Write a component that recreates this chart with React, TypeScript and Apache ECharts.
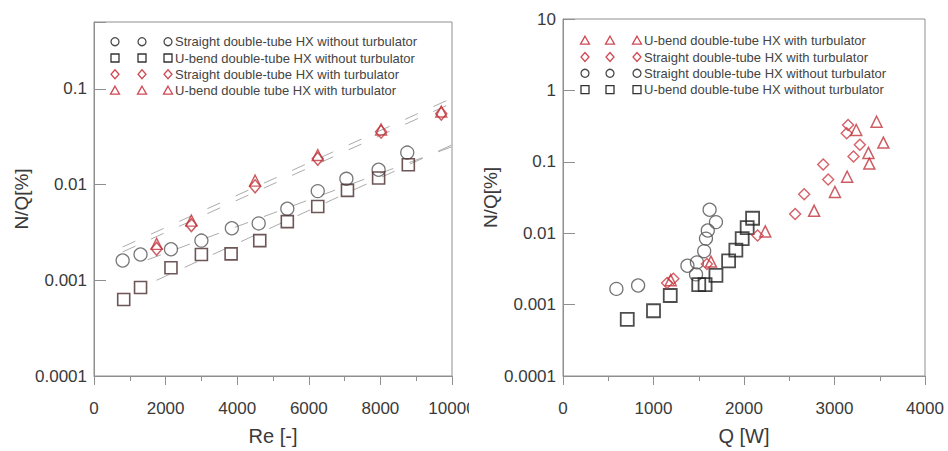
import React, { useEffect, useRef } from 'react';
import * as echarts from 'echarts';

const FONT = '"Liberation Sans", Arial, Helvetica, sans-serif';

// ---------- Left panel: N/Q vs Re ----------
const leftReStraightNo = [800, 1300, 2150, 3000, 3850, 4600, 5400, 6250, 7050, 7950, 8750];
const leftNQStraightNo = [0.00161, 0.00186, 0.00211, 0.0026, 0.0035, 0.00393, 0.0056, 0.00855, 0.0115, 0.0143, 0.0216];
const leftReUbendNo = [830, 1300, 2150, 3000, 3830, 4630, 5400, 6250, 7080, 7950, 8780];
const leftNQUbendNo = [0.00063, 0.00084, 0.00135, 0.00186, 0.00189, 0.0026, 0.0041, 0.0059, 0.0087, 0.0117, 0.0161];
const leftReStraightWith = [1750, 2720, 4500, 6250, 8020, 9700];
const leftNQStraightWith = [0.00213, 0.00377, 0.0096, 0.0186, 0.0357, 0.0551];
const leftReUbendWith = [1750, 2720, 4500, 6250, 8020, 9700];
const leftNQUbendWith = [0.0024, 0.0042, 0.011, 0.0204, 0.0377, 0.058];

// dashed exponential fit lines (end points)
const fitReUbendWith = [800, 10000];
const fitNQUbendWith = [0.00223, 0.08];
const fitReStraightWith = [800, 10000];
const fitNQStraightWith = [0.00198, 0.071];
const fitReStraightNo = [1500, 10000];
const fitNQStraightNo = [0.00164, 0.0249];
const fitReUbendNo = [1745, 10000];
const fitNQUbendNo = [0.001, 0.026];

// ---------- Right panel: N/Q vs Q ----------
const rightQStraightNo = [590, 830, 1375, 1480, 1470, 1560, 1580, 1600, 1690, 1620];
const rightNQStraightNo = [0.00166, 0.00185, 0.0035, 0.0039, 0.00265, 0.0056, 0.0084, 0.0109, 0.0143, 0.0213];
const rightQUbendNo = [710, 1000, 1185, 1500, 1570, 1690, 1830, 1910, 1980, 2035, 2095];
const rightNQUbendNo = [0.00062, 0.00082, 0.00134, 0.0019, 0.0019, 0.00257, 0.0041, 0.0058, 0.0084, 0.012, 0.0162];
const rightQStraightWith = [1150, 1220, 1590, 2150, 2565, 2665, 2875, 2930, 3210, 3280, 3135, 3150];
const rightNQStraightWith = [0.002, 0.0023, 0.0037, 0.0093, 0.0186, 0.0351, 0.0914, 0.0567, 0.119, 0.173, 0.251, 0.327];
const rightQUbendWith = [1190, 1635, 2235, 2775, 3005, 3140, 3385, 3375, 3240, 3465, 3540];
const rightNQUbendWith = [0.0022, 0.004, 0.0106, 0.0206, 0.0378, 0.0618, 0.0944, 0.133, 0.279, 0.364, 0.186];

const leftLegend = [
  { name: 'Straight double-tube HX without turbulator', kind: 'circle', color: '#4a4a4a' },
  { name: 'U-bend double-tube HX without turbulator', kind: 'rect', color: '#333333' },
  { name: 'Straight double-tube HX with turbulator', kind: 'diamond', color: '#d04a55' },
  { name: 'U-bend double tube HX with turbulator', kind: 'triangle', color: '#d04a55' },
];
const rightLegend = [
  { name: 'U-bend double-tube HX with turbulator', kind: 'triangle', color: '#d04a55' },
  { name: 'Straight double-tube HX with turbulator', kind: 'diamond', color: '#d04a55' },
  { name: 'Straight double-tube HX without turbulator', kind: 'circle', color: '#4a4a4a' },
  { name: 'U-bend double-tube HX without turbulator', kind: 'rect', color: '#333333' },
];

const zip = (xs: number[], ys: number[]) => xs.map((x, i) => [x, ys[i]]);

const AXIS_COLOR = '#8f8f8f';
const LABEL_COLOR = '#3a3a3a';

const logFormatter = (v: number) => {
  const e = Math.log10(v);
  const r = Math.round(e);
  if (Math.abs(e - r) > 1e-6) return '';
  return r >= 0 ? String(Math.pow(10, r)) : Math.pow(10, r).toFixed(-r);
};

function xAxisDef(grid: number, max: number, interval: number, name: string) {
  return {
    type: 'value',
    gridIndex: grid,
    min: 0,
    max,
    interval,
    name,
    nameLocation: 'middle',
    nameGap: 50,
    nameTextStyle: { fontSize: 20, color: LABEL_COLOR, fontFamily: FONT },
    axisLine: { lineStyle: { color: AXIS_COLOR, width: 1 } },
    axisTick: { show: true, inside: false, length: 9, lineStyle: { color: AXIS_COLOR } },
    minorTick: { show: true, splitNumber: 2, length: 5, lineStyle: { color: AXIS_COLOR } },
    axisLabel: {
      fontSize: 17,
      color: LABEL_COLOR,
      margin: 24,
      fontFamily: FONT,
      formatter: (v: number) => String(Math.round(v)),
    },
    splitLine: { show: false },
    minorSplitLine: { show: false },
  };
}

function yAxisDef(grid: number, max: number, nameGap: number) {
  return {
    type: 'log',
    logBase: 10,
    gridIndex: grid,
    min: 0.0001,
    max,
    name: 'N/Q[%]',
    nameLocation: 'middle',
    nameGap,
    nameRotate: 90,
    nameTextStyle: { fontSize: 19, color: LABEL_COLOR, fontFamily: FONT },
    axisLine: { lineStyle: { color: AXIS_COLOR, width: 1 } },
    axisTick: { show: true, inside: true, length: 12, lineStyle: { color: AXIS_COLOR } },
    axisLabel: { fontSize: 17, color: LABEL_COLOR, margin: 7, fontFamily: FONT, formatter: logFormatter },
    splitLine: { show: false },
  };
}

function scatter(name: string, grid: number, data: number[][], symbol: string, size: number | number[], color: string, bw: number) {
  return {
    type: 'scatter',
    name,
    xAxisIndex: grid,
    yAxisIndex: grid,
    data,
    symbol,
    symbolSize: size,
    itemStyle: { color: 'rgba(0,0,0,0)', borderColor: color, borderWidth: bw },
    z: 3,
    silent: true,
  };
}

function fitLine(data: number[][]) {
  return {
    type: 'line',
    xAxisIndex: 0,
    yAxisIndex: 0,
    data,
    symbol: 'none',
    lineStyle: { color: '#ababab', width: 1, type: [14, 17] },
    z: 1,
    silent: true,
  };
}

function legendSymbol(kind: string, x: number, y: number, color: string) {
  const style = { fill: 'none', stroke: color, lineWidth: 1.3 };
  if (kind === 'circle') return { type: 'circle', shape: { cx: x, cy: y, r: 4 }, style };
  if (kind === 'rect') return { type: 'rect', shape: { x: x - 4, y: y - 4, width: 8, height: 8 }, style };
  if (kind === 'diamond')
    return { type: 'polygon', shape: { points: [[x, y - 4.5], [x + 4, y], [x, y + 4.5], [x - 4, y]] }, style };
  return { type: 'polygon', shape: { points: [[x, y - 4.5], [x + 4.5, y + 3.5], [x - 4.5, y + 3.5]] }, style };
}

function legendGraphics(items: typeof leftLegend, xs: number[], textX: number, rows: number[]) {
  const out: any[] = [];
  items.forEach((it, i) => {
    xs.forEach((x) => out.push(legendSymbol(it.kind, x, rows[i], it.color)));
    out.push({
      type: 'text',
      x: textX,
      y: rows[i],
      style: {
        text: it.name,
        fontSize: 13,
        fontFamily: FONT,
        fill: '#444444',
        verticalAlign: 'middle',
        align: 'left',
      },
    });
  });
  return out;
}

export default function App() {
  const ref = useRef<HTMLDivElement>(null);
  useEffect(() => {
    const chart = echarts.init(ref.current!, null, { renderer: 'svg' });
    const option: any = {
      animation: false,
      backgroundColor: '#ffffff',
      textStyle: { fontFamily: FONT },
      grid: [
        { left: 94, top: 22, width: 358, height: 358, show: true, borderColor: AXIS_COLOR, borderWidth: 1, containLabel: false },
        { left: 563, top: 19, width: 362, height: 361, show: true, borderColor: AXIS_COLOR, borderWidth: 1, containLabel: false },
      ],
      xAxis: [xAxisDef(0, 10000, 2000, 'Re [-]'), xAxisDef(1, 4000, 1000, 'Q [W]')],
      yAxis: [yAxisDef(0, 0.5, 60), yAxisDef(1, 10, 46)],
      series: [
        fitLine(zip(fitReUbendWith, fitNQUbendWith)),
        fitLine(zip(fitReStraightWith, fitNQStraightWith)),
        fitLine(zip(fitReStraightNo, fitNQStraightNo)),
        fitLine(zip(fitReUbendNo, fitNQUbendNo)),
        scatter(leftLegend[0].name, 0, zip(leftReStraightNo, leftNQStraightNo), 'circle', 13, '#555555', 1.3),
        scatter(leftLegend[1].name, 0, zip(leftReUbendNo, leftNQUbendNo), 'rect', 12, '#4a2a2c', 1.6),
        scatter(leftLegend[2].name, 0, zip(leftReStraightWith, leftNQStraightWith), 'diamond', [11, 13], '#c0343c', 1.5),
        scatter(leftLegend[3].name, 0, zip(leftReUbendWith, leftNQUbendWith), 'triangle', 11, '#c0343c', 1.4),
        scatter(rightLegend[2].name, 1, zip(rightQStraightNo, rightNQStraightNo), 'circle', 13, '#505050', 1.3),
        scatter(rightLegend[3].name, 1, zip(rightQUbendNo, rightNQUbendNo), 'rect', 13, '#222222', 1.8),
        scatter(rightLegend[1].name, 1, zip(rightQStraightWith, rightNQStraightWith), 'diamond', [11, 11], '#cc3a44', 1.4),
        scatter(rightLegend[0].name, 1, zip(rightQUbendWith, rightNQUbendWith), 'triangle', 11, '#c0343c', 1.5),
      ],
      graphic: [
        ...legendGraphics(leftLegend, [115, 142, 168], 175, [41.7, 58, 74.3, 90.7]),
        ...legendGraphics(rightLegend, [585, 610, 637], 644, [40.7, 57, 73.3, 89.7]),
        { type: 'rect', shape: { x: 469, y: 398, width: 30, height: 30 }, style: { fill: '#ffffff' }, z: 100 },
      ],
    };
    chart.setOption(option);
    return () => chart.dispose();
  }, []);
  return (
    <div
      ref={ref}
      style={{ position: 'absolute', left: 0, top: 0, width: 948, height: 451, background: '#fff' }}
    />
  );
}
